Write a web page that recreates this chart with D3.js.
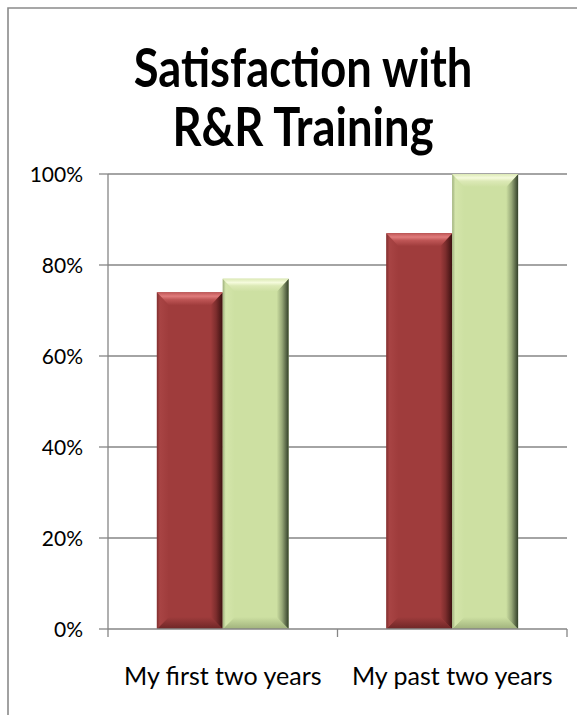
<!DOCTYPE html>
<html>
<head>
<meta charset="utf-8">
<script src="https://cdn.jsdelivr.net/npm/d3@7"></script>
<style>
  html, body { margin: 0; padding: 0; background: #fff; overflow: hidden; }
  svg { display: block; }
  text { font-family: Lato, "Open Sans", sans-serif; fill: #000; }
</style>
</head>
<body>
<svg id="chart" width="577" height="715"></svg>
<script>
// Survey results: share satisfied with R&R training, by tenure group
const categories = ["My first two years", "My past two years"];
const seriesNames = ["Series 1", "Series 2"];
const series1 = [0.74, 0.87];
const series2 = [0.77, 1.00];
const yTicks = [0, 0.2, 0.4, 0.6, 0.8, 1.0];
const titleLines = ["Satisfaction with", "R&R Training"];

const svg = d3.select("#chart");
const W = 577, H = 715;
const plot = { left: 108, right: 567, top: 174, bottom: 629 };

svg.append("rect").attr("width", W).attr("height", H).attr("fill", "#fff");

// chart frame: only its top and left edges fall inside the view
svg.append("path")
  .attr("d", `M8,${H} L8,8 L${W},8`)
  .attr("fill", "none").attr("stroke", "#8a8a8a").attr("stroke-width", 1.6);

// title, set in a condensed bold face
const title = svg.append("g")
  .attr("transform", "translate(303,0) scale(0.84,1)")
  .append("text")
  .attr("text-anchor", "middle")
  .style("font-weight", "bold")
  .style("font-size", "54px");
titleLines.forEach((t, i) => {
  title.append("tspan").attr("x", 0).attr("y", 87 + i * 59).text(t);
});

const y = d3.scaleLinear().domain([0, 1]).range([plot.bottom, plot.top]);
const x0 = d3.scaleBand().domain(categories).range([plot.left, plot.right]);
const bw = x0.bandwidth();
const x1 = d3.scaleBand().domain(seriesNames).range([bw * 0.213, bw * 0.787]);

// gridlines
svg.append("g")
  .selectAll("line")
  .data(yTicks.filter(d => d > 0))
  .join("line")
  .attr("x1", plot.left).attr("x2", plot.right)
  .attr("y1", d => y(d)).attr("y2", d => y(d))
  .attr("stroke", "#868686").attr("stroke-width", 1.3);

// bevel gradients
const defs = svg.append("defs");
const palette = [
  { base: "#9f3c3c", light: "#bf5656", hi: "#e07c7c", left: "#a84444", dark: "#3a1010", bottom: "#6e2626" },
  { base: "#cde0a2", light: "#dce9b6", hi: "#f5fbdc", left: "#d4e5ab", dark: "#33402a", bottom: "#a0b27c" }
];
palette.forEach((p, i) => {
  const top = defs.append("linearGradient").attr("id", "top" + i)
    .attr("x1", 0).attr("y1", 0).attr("x2", 0).attr("y2", 1);
  top.append("stop").attr("offset", "0%").attr("stop-color", p.light);
  top.append("stop").attr("offset", "30%").attr("stop-color", p.hi);
  top.append("stop").attr("offset", "55%").attr("stop-color", p.light);
  top.append("stop").attr("offset", "100%").attr("stop-color", p.base);

  const right = defs.append("linearGradient").attr("id", "right" + i)
    .attr("x1", 0).attr("y1", 0).attr("x2", 1).attr("y2", 0);
  right.append("stop").attr("offset", "0%").attr("stop-color", p.base);
  right.append("stop").attr("offset", "45%").attr("stop-color", d3.interpolateRgb(p.base, p.dark)(0.35));
  right.append("stop").attr("offset", "100%").attr("stop-color", p.dark);

  const left = defs.append("linearGradient").attr("id", "left" + i)
    .attr("x1", 0).attr("y1", 0).attr("x2", 1).attr("y2", 0);
  left.append("stop").attr("offset", "0%").attr("stop-color", d3.interpolateRgb(p.base, p.dark)(0.3));
  left.append("stop").attr("offset", "25%").attr("stop-color", p.left);
  left.append("stop").attr("offset", "100%").attr("stop-color", p.base);

  const bot = defs.append("linearGradient").attr("id", "bot" + i)
    .attr("x1", 0).attr("y1", 0).attr("x2", 0).attr("y2", 1);
  bot.append("stop").attr("offset", "0%").attr("stop-color", p.base);
  bot.append("stop").attr("offset", "100%").attr("stop-color", p.bottom);
});

// bars
const rows = [];
categories.forEach((c, ci) => {
  [series1, series2].forEach((s, si) => rows.push({ cat: c, si, v: s[ci] }));
});

const bars = svg.append("g").selectAll("g.bar")
  .data(rows)
  .join("g").attr("class", "bar");

bars.each(function (d) {
  const g = d3.select(this);
  const x = x0(d.cat) + x1(seriesNames[d.si]);
  const w = x1.bandwidth();
  const yt = y(d.v), yb = y(0);
  const bt = 13, bs = 12, bb = 12;
  const p = palette[d.si];
  g.append("rect").attr("x", x).attr("y", yt).attr("width", w).attr("height", yb - yt).attr("fill", p.base);
  const poly = pts => pts.map(q => q.join(",")).join(" ");
  // bottom
  g.append("polygon").attr("fill", `url(#bot${d.si})`)
    .attr("points", poly([[x, yb], [x + w, yb], [x + w - bs, yb - bb], [x + bs, yb - bb]]));
  // left
  g.append("polygon").attr("fill", `url(#left${d.si})`)
    .attr("points", poly([[x, yt], [x + bs, yt + bt], [x + bs, yb - bb], [x, yb]]));
  // right
  g.append("polygon").attr("fill", `url(#right${d.si})`)
    .attr("points", poly([[x + w, yt], [x + w, yb], [x + w - bs, yb - bb], [x + w - bs, yt + bt]]));
  // top
  g.append("polygon").attr("fill", `url(#top${d.si})`)
    .attr("points", poly([[x, yt], [x + w, yt], [x + w - bs, yt + bt], [x + bs, yt + bt]]));
});

// y axis
const yAxis = svg.append("g");
yAxis.append("line")
  .attr("x1", plot.left).attr("x2", plot.left)
  .attr("y1", plot.top).attr("y2", plot.bottom)
  .attr("stroke", "#868686").attr("stroke-width", 1.3);
yAxis.selectAll("line.tick")
  .data(yTicks).join("line").attr("class", "tick")
  .attr("x1", plot.left - 9).attr("x2", plot.left)
  .attr("y1", d => y(d)).attr("y2", d => y(d))
  .attr("stroke", "#868686").attr("stroke-width", 1.3);
yAxis.selectAll("text")
  .data(yTicks).join("text")
  .attr("x", 83).attr("y", d => y(d))
  .attr("dy", "0.36em")
  .attr("text-anchor", "end")
  .style("font-size", "21px")
  .text(d3.format(".0%"));

// x axis
const xAxis = svg.append("g");
xAxis.append("line")
  .attr("x1", plot.left).attr("x2", plot.right)
  .attr("y1", plot.bottom).attr("y2", plot.bottom)
  .attr("stroke", "#868686").attr("stroke-width", 1.3);
const bounds = [plot.left].concat(categories.map(c => x0(c) + bw));
xAxis.selectAll("line.tick")
  .data(bounds).join("line").attr("class", "tick")
  .attr("x1", d => d).attr("x2", d => d)
  .attr("y1", plot.bottom).attr("y2", plot.bottom + 8)
  .attr("stroke", "#868686").attr("stroke-width", 1.3);
xAxis.selectAll("text")
  .data(categories).join("text")
  .attr("x", d => x0(d) + bw / 2)
  .attr("y", 685)
  .attr("text-anchor", "middle")
  .style("font-size", "25px")
  .text(d => d);
</script>
</body>
</html>
